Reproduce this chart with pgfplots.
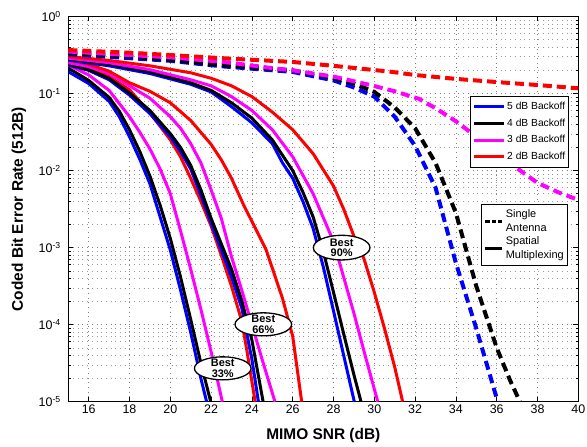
\documentclass[border=0pt]{standalone}
\usepackage{fontspec}
\setmainfont{Liberation Sans}
\usepackage{pgfplots}
\pgfplotsset{compat=1.18}
\definecolor{mag}{RGB}{255,0,255}
\definecolor{bl}{RGB}{0,0,255}
\definecolor{rd}{RGB}{255,0,0}

\pgfplotsset{
  sol/.style={line width=3bp, line join=round},
  das/.style={line width=4bp, dash pattern=on 9bp off 5bp},
}

\begin{document}
\begin{tikzpicture}
\begin{axis}[
  at={(0,0)}, anchor=south west,
  scale only axis, width=510bp, height=385.2bp,
  xmin=15, xmax=40, ymode=log, ymin=1e-5, ymax=1,
  xtick={16,18,...,40},
  ytick={1e-5,1e-4,1e-3,1e-2,1e-1,1},
  yticklabels={10\textsuperscript{-5},10\textsuperscript{-4},10\textsuperscript{-3},10\textsuperscript{-2},10\textsuperscript{-1},10\textsuperscript{0}},
  minor ytick={2e-5,3e-5,4e-5,5e-5,6e-5,7e-5,8e-5,9e-5,
               2e-4,3e-4,4e-4,5e-4,6e-4,7e-4,8e-4,9e-4,
               2e-3,3e-3,4e-3,5e-3,6e-3,7e-3,8e-3,9e-3,
               2e-2,3e-2,4e-2,5e-2,6e-2,7e-2,8e-2,9e-2,
               2e-1,3e-1,4e-1,5e-1,6e-1,7e-1,8e-1,9e-1},
  xmajorgrids, ymajorgrids, yminorgrids,
  major grid style={black!50, line width=0.6bp, dash pattern=on 0.7bp off 4bp},
  minor grid style={black!40, line width=0.6bp, dash pattern=on 0.7bp off 4bp},
  tick style={black, line width=0.6bp},
  major tick length=5bp, minor tick length=2.5bp,
  axis line style={line width=0.9bp},
  tick label style={font=\fontsize{12.5}{14}\selectfont},
  yticklabel style={xshift=-4bp},
  /pgf/number format/assume math mode=true,
  xlabel={MIMO SNR (dB)},
  ylabel={Coded Bit Error Rate (512B)},
  label style={font=\fontsize{15.5}{18}\selectfont\bfseries},
  xlabel style={at={([yshift=-34.3bp]rel axis cs:0.5,0)}, anchor=center},
  ylabel style={at={([xshift=-49.5bp]rel axis cs:0,0.5)}, anchor=center},
  legend style={at={(rel axis cs:0.982,0.7936)}, anchor=north east,
    draw=black, line width=0.8bp, fill=white,
    font=\fontsize{10.3}{12}\selectfont, inner xsep=2bp, inner ysep=2bp, row sep=0bp,
    nodes={inner ysep=3.1bp, inner xsep=1.5bp, text height=8bp, text depth=2.5bp}},
  legend cell align=left,
  legend image code/.code={\draw[#1] (0bp,0bp) -- (30bp,0bp);},
]
% ---------- Best 33% ----------
\addplot[sol, bl] coordinates {(15,1.92e-1)(16,1.35e-1)(17,7.94e-2)(17.5,5.01e-2)(18,2.75e-2)(18.5,1.41e-2)(19,6.76e-3)(19.5,2.51e-3)(20,9.33e-4)(20.5,2.82e-4)(21,7.94e-5)(21.5,2.0e-5)(21.78,1e-5)};
\addlegendentry{5 dB Backoff}
\addplot[sol, black] coordinates {(15,2.14e-1)(16,1.48e-1)(17,8.91e-2)(17.5,5.89e-2)(18,3.39e-2)(18.5,1.78e-2)(19,8.51e-3)(19.5,3.55e-3)(20,1.32e-3)(20.5,4.17e-4)(21,1.17e-4)(21.5,3.16e-5)(21.98,1e-5)};
\addlegendentry{4 dB Backoff}
\addplot[sol, mag] coordinates {(15,2.34e-1)(16,1.74e-1)(17,1.10e-1)(18,5.01e-2)(18.5,3.16e-2)(19,1.91e-2)(19.5,1.05e-2)(20,5.01e-3)(20.5,1.66e-3)(21,5.25e-4)(21.5,1.58e-4)(22,4.47e-5)(22.55,1e-5)};
\addlegendentry{3 dB Backoff}
\addplot[sol, rd] coordinates {(15,2.51e-1)(16,2.14e-1)(17,1.66e-1)(18,1.12e-1)(19,5.62e-2)(20,2.51e-2)(20.5,1.51e-2)(21,7.94e-3)(21.5,3.98e-3)(22,1.91e-3)(22.5,7.94e-4)(23,3.16e-4)(23.5,1.12e-4)(23.75,4.68e-5)(24.16,1e-5)};
\addlegendentry{2 dB Backoff}
% ---------- Best 66% ----------
\addplot[sol, bl] coordinates {(15,2.34e-1)(16,2.0e-1)(17,1.51e-1)(18,9.55e-2)(19,5.50e-2)(20,2.75e-2)(20.5,1.78e-2)(21,1.05e-2)(21.5,4.79e-3)(22,2.09e-3)(22.5,9.33e-4)(23,4.17e-4)(23.5,1.66e-4)(24,3.55e-5)(24.32,1e-5)};
\addplot[sol, black] coordinates {(15,2.40e-1)(16,2.04e-1)(17,1.58e-1)(18,1.02e-1)(19,6.03e-2)(20,3.02e-2)(20.5,2.0e-2)(21,1.17e-2)(21.5,5.62e-3)(22,2.40e-3)(22.5,1.12e-3)(23,5.25e-4)(23.5,2.09e-4)(24,6.31e-5)(24.55,1e-5)};
\addplot[sol, mag] coordinates {(15,2.51e-1)(16,2.24e-1)(17,1.82e-1)(18,1.26e-1)(19,8.71e-2)(20,5.01e-2)(20.5,3.55e-2)(21,2.24e-2)(21.5,1.26e-2)(22,5.62e-3)(22.5,2.40e-3)(23,7.59e-4)(23.5,2.82e-4)(24,1.0e-4)(24.5,3.55e-5)(25.13,1e-5)};
\addplot[sol, rd] coordinates {(15,2.75e-1)(16,2.40e-1)(17,1.95e-1)(18,1.38e-1)(19,1.07e-1)(20,7.59e-2)(21,4.47e-2)(22,2.19e-2)(22.5,1.38e-2)(23,7.94e-3)(23.6,3.55e-3)(24,2.19e-3)(24.7,9.33e-4)(25.5,2.19e-4)(26,7.08e-5)(26.44,1e-5)};
% ---------- Best 90% ----------
\addplot[sol, bl] coordinates {(15,2.72e-1)(17,2.29e-1)(19,1.82e-1)(21,1.32e-1)(22,1.05e-1)(23,6.76e-2)(24,4.17e-2)(25,2.24e-2)(25.5,1.26e-2)(26,7.94e-3)(26.5,3.98e-3)(27,1.78e-3)(27.5,5.62e-4)(28,1.51e-4)(28.5,3.98e-5)(29.02,1e-5)};
\addplot[sol, black] coordinates {(15,2.79e-1)(17,2.40e-1)(19,1.91e-1)(21,1.38e-1)(22,1.10e-1)(23,7.59e-2)(24,4.79e-2)(25,2.51e-2)(25.5,1.58e-2)(26,1.0e-2)(26.5,5.25e-3)(27,2.51e-3)(27.5,8.91e-4)(28,2.63e-4)(28.5,7.59e-5)(29,2.24e-5)(29.35,1e-5)};
\addplot[sol, mag] coordinates {(15,2.88e-1)(17,2.51e-1)(19,2.04e-1)(21,1.51e-1)(22,1.26e-1)(23,9.12e-2)(24,6.03e-2)(25,3.39e-2)(26,1.51e-2)(27,5.01e-3)(28,1.20e-3)(29,1.41e-4)(29.5,4.47e-5)(30.17,1e-5)};
\addplot[sol, rd] coordinates {(15,3.02e-1)(17,2.69e-1)(19,2.29e-1)(21,1.86e-1)(22,1.58e-1)(23,1.26e-1)(24,9.12e-2)(25,5.75e-2)(26,3.39e-2)(27,1.66e-2)(28,6.31e-3)(28.5,3.16e-3)(29,1.41e-3)(29.5,7.08e-4)(30,2.63e-4)(30.5,8.91e-5)(31,2.82e-5)(31.39,1e-5)};
% ---------- Single antenna (dashed) ----------
\addplot[das, bl] coordinates {(15,3.24e-1)(18,2.88e-1)(20,2.66e-1)(22.5,2.26e-1)(26,1.91e-1)(28,1.48e-1)(29,1.20e-1)(30,9.12e-2)(31,5.01e-2)(32,2.09e-2)(33,6.03e-3)(34,6.31e-4)(35,8.91e-5)(36.05,1e-5)};
\addplot[das, black] coordinates {(15,3.35e-1)(18,3.02e-1)(20,2.75e-1)(22.5,2.34e-1)(26,2.0e-1)(28,1.58e-1)(29,1.35e-1)(30,1.05e-1)(31,6.61e-2)(32,3.55e-2)(33,1.26e-2)(34,2.82e-3)(35,3.16e-4)(36,5.01e-5)(36.65,1.91e-5)(37.14,1e-5)};
\addplot[das, mag] coordinates {(15,3.51e-1)(18,3.16e-1)(20,2.95e-1)(22.5,2.59e-1)(25,2.14e-1)(26,2.0e-1)(28,1.66e-1)(29.8,1.29e-1)(31,1.07e-1)(32.2,8.51e-2)(33,6.46e-2)(34,4.37e-2)(35,2.75e-2)(36,1.74e-2)(37,1.07e-2)(38,6.92e-3)(39,5.25e-3)(40,4.17e-3)};
\addplot[das, rd] coordinates {(15,3.67e-1)(18,3.39e-1)(20,3.16e-1)(22.5,2.88e-1)(26,2.57e-1)(28,2.29e-1)(30.8,1.92e-1)(32,1.74e-1)(34,1.55e-1)(36,1.41e-1)(38,1.29e-1)(40,1.17e-1)};
% ---------- labels ----------
\draw[fill=white, line width=1.3bp] (axis cs:22.57,2.71e-5) ellipse [x radius=28.3bp, y radius=11.5bp];
\node[align=center, inner sep=0pt, font=\fontsize{11}{10.5}\selectfont\bfseries] at (axis cs:22.57,2.71e-5) {Best\\33\%};
\draw[fill=white, line width=1.3bp] (axis cs:24.56,1.01e-4) ellipse [x radius=28.3bp, y radius=11.5bp];
\node[align=center, inner sep=0pt, font=\fontsize{11}{10.5}\selectfont\bfseries] at (axis cs:24.56,1.01e-4) {Best\\66\%};
\draw[fill=white, line width=1.3bp] (axis cs:28.40,1.0e-3) ellipse [x radius=28.3bp, y radius=12.3bp];
\node[align=center, inner sep=0pt, font=\fontsize{11}{10.5}\selectfont\bfseries] at (axis cs:28.40,1.0e-3) {Best\\90\%};
\end{axis}
% second legend
\begin{axis}[
  at={(0,0)}, anchor=south west,
  scale only axis, width=510bp, height=385.2bp,
  hide axis, xmin=0, xmax=1, ymin=0, ymax=1,
  legend style={at={(rel axis cs:0.980,0.513)}, anchor=north east,
    draw=black, line width=0.8bp, fill=white,
    font=\fontsize{11}{14}\selectfont, inner xsep=2bp, inner ysep=3bp, row sep=0bp,
    cells={align=left}},
  legend cell align=left,
  legend image code/.code={\draw[#1] (0bp,0bp) -- (17bp,0bp);},
]
\addlegendimage{black, line width=3bp, dash pattern=on 4.5bp off 1.8bp}
\addlegendentry{Single\\Antenna}
\addlegendimage{black, line width=2.2bp}
\addlegendentry{Spatial\\Multiplexing}
\end{axis}
\pgfresetboundingbox
\path[use as bounding box] (-68.3bp,-45.3bp) rectangle (518.7bp,401.7bp);
\end{tikzpicture}
\end{document}
